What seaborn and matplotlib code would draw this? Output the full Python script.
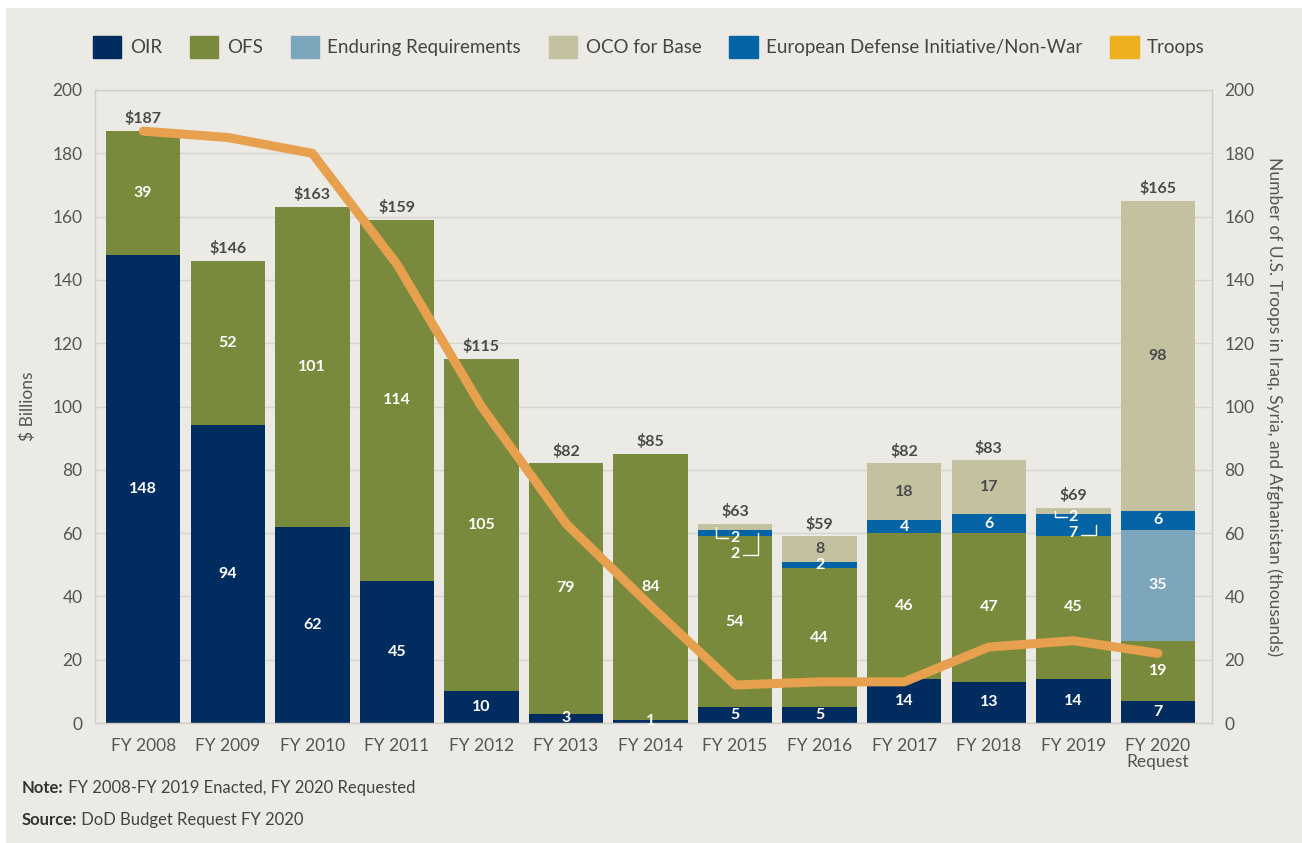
import numpy as np
import pandas as pd
import matplotlib
matplotlib.use("Agg")
import matplotlib.pyplot as plt
import matplotlib.patches as mpatches
import seaborn as sns

# ---------------- data ----------------
years = ["FY 2008", "FY 2009", "FY 2010", "FY 2011", "FY 2012", "FY 2013", "FY 2014",
         "FY 2015", "FY 2016", "FY 2017", "FY 2018", "FY 2019", "FY 2020\nRequest"]
oir = [148, 94, 62, 45, 10, 3, 1, 5, 5, 14, 13, 14, 7]
ofs = [39, 52, 101, 114, 105, 79, 84, 54, 44, 46, 47, 45, 19]
enduring = [0, 0, 0, 0, 0, 0, 0, 0, 0, 0, 0, 0, 35]
edi = [0, 0, 0, 0, 0, 0, 0, 2, 2, 4, 6, 7, 6]
oco_base = [0, 0, 0, 0, 0, 0, 0, 2, 8, 18, 17, 2, 98]
totals = [187, 146, 163, 159, 115, 82, 85, 63, 59, 82, 83, 69, 165]
troops = [187, 185, 180, 145, 100, 63, 37, 12, 13, 13, 24, 26, 22]

series_names = ["OIR", "OFS", "Enduring Requirements", "European Defense Initiative/Non-War", "OCO for Base"]
series_vals = [oir, ofs, enduring, edi, oco_base]
colors = {"OIR": "#002C5F", "OFS": "#7A8A3C", "Enduring Requirements": "#7BA6BB",
          "OCO for Base": "#C4C1A1", "European Defense Initiative/Non-War": "#0464A5",
          "Troops": "#EFB020"}
line_color = "#E6A04E"
bg = "#EBEAE4"
txt = "#555555"

# ---------------- figure ----------------
sns.set_theme(style="white")
plt.rcParams["font.family"] = ["Lato", "DejaVu Sans"]

fig = plt.figure(figsize=(13.02, 8.43), dpi=100, facecolor="white")
fig.patches.append(mpatches.Rectangle((6 / 1302, 0), 1, 1 - 8 / 843, transform=fig.transFigure,
                                      facecolor=bg, edgecolor="none", zorder=-10))
ax = fig.add_axes([95 / 1302, 1 - 723 / 843, (1212 - 95) / 1302, (723 - 90) / 843])
ax.set_facecolor(bg)

n = len(years)
arr = np.array(series_vals, dtype=float)
cum = np.cumsum(arr, axis=0)

# draw cumulative stacks from top layer down (overlapping bars)
for k in range(len(series_names) - 1, -1, -1):
    df = pd.DataFrame({"year": years, "val": cum[k]})
    sns.barplot(data=df, x="year", y="val", color=colors[series_names[k]], saturation=1,
                width=0.88, ax=ax, zorder=2, linewidth=0)

ax.set_xlim(-0.57, n - 1 + 0.64)
ax.set_ylim(0, 200)
ax.set_yticks(np.arange(0, 201, 20))
ax.yaxis.grid(True, color="#D6D4CC", linewidth=1, zorder=0)
ax.set_axisbelow(True)
for s in ax.spines.values():
    s.set_color("#CFCDC5")
    s.set_linewidth(1)
ax.tick_params(axis="y", length=0, labelsize=12.5, colors=txt, pad=9)
ax.tick_params(axis="x", length=0, labelsize=12.5, colors=txt, pad=11)
ax.set_xlabel("")
ax.set_ylabel("$ Billions", fontsize=12.5, color=txt, labelpad=12)
for lab in ax.get_xticklabels():
    lab.set_linespacing(1.0)

# segment labels
skip = {(7, 3), (7, 4), (11, 3), (11, 4)}
for i in range(n):
    for k in range(len(series_names)):
        v = arr[k, i]
        if v <= 0 or (i, k) in skip:
            continue
        y = cum[k, i] - v / 2
        c = "#4a4a4a" if series_names[k] == "OCO for Base" else "white"
        ax.text(i, y, f"{int(v)}", ha="center", va="center", color=c, fontsize=11.5,
                fontweight="bold", zorder=5)
    ax.text(i, cum[-1, i] + 1.5, f"${totals[i]}", ha="center", va="bottom", color="#4a4a4a",
            fontsize=11.5, fontweight="bold", zorder=5)

# leader-line labels for thin segments
def leader(i, k_top, k_low, y_top_lab, y_low_lab):
    top_v = arr[k_top, i]
    low_v = arr[k_low, i]
    top_mid = cum[k_top, i] - top_v / 2
    low_mid = cum[k_low, i] - low_v / 2
    ax.plot([i - 0.22, i - 0.22, i - 0.08], [top_mid, y_top_lab, y_top_lab], color="white",
            lw=1, zorder=5)
    ax.text(i, y_top_lab, f"{int(top_v)}", ha="center", va="center", color="white",
            fontsize=11.5, fontweight="bold", zorder=6)
    ax.plot([i + 0.09, i + 0.27, i + 0.27], [y_low_lab - 0.5, y_low_lab - 0.5, low_mid],
            color="white", lw=1, zorder=5)
    ax.text(i, y_low_lab, f"{int(low_v)}", ha="center", va="center", color="white",
            fontsize=11.5, fontweight="bold", zorder=6)

leader(7, 4, 3, 58.3, 53.5)
leader(11, 4, 3, 65.0, 60.0)

# troops line
ax2 = ax.twinx()
sns.lineplot(x=np.arange(n), y=troops, ax=ax2, color=line_color, linewidth=6.5,
             solid_capstyle="round", solid_joinstyle="round", zorder=10)
ax2.set_ylim(0, 200)
ax2.set_yticks(np.arange(0, 201, 20))
ax2.tick_params(axis="y", length=0, labelsize=12.5, colors=txt, pad=9)
ax2.set_ylabel("Number of U.S. Troops in Iraq, Syria, and Afghanistan (thousands)",
               fontsize=12.5, color=txt, rotation=270, labelpad=20)
for s in ax2.spines.values():
    s.set_visible(False)
ax2.grid(False)

# legend
handles = [mpatches.Patch(color=colors[nm], label=nm) for nm in
           ["OIR", "OFS", "Enduring Requirements", "OCO for Base",
            "European Defense Initiative/Non-War", "Troops"]]
fig.legend(handles=handles, loc="center", bbox_to_anchor=(649 / 1302, 1 - 47 / 843), ncol=6,
           frameon=False, fontsize=13.5, handlelength=1.5, handleheight=1.5,
           handletextpad=0.45, columnspacing=1.5, labelcolor="#444444")

# footer
fig.canvas.draw()
r = fig.canvas.get_renderer()
for ypx, b, t in [(788, "Note:", " FY 2008-FY 2019 Enacted, FY 2020 Requested"),
                  (820, "Source:", " DoD Budget Request FY 2020")]:
    tb = fig.text(22 / 1302, 1 - ypx / 843, b, fontsize=12, fontweight="bold", color="#333333",
                  va="center", ha="left")
    bb = tb.get_window_extent(renderer=r)
    fig.text(bb.x1 / 1302, 1 - ypx / 843, t, fontsize=12, color="#444444", va="center",
             ha="left")

fig.savefig("out.png", dpi=100, facecolor="white")
